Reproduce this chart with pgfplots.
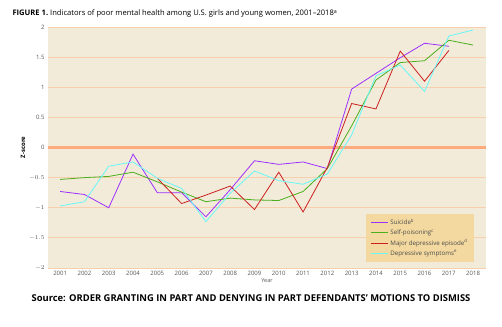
\documentclass[border=0pt]{standalone}
\usepackage{pgfplots}
\pgfplotsset{compat=1.18}
\usepackage{fontspec}
\setmainfont{Open Sans}
\definecolor{bgc}{HTML}{F2EBD9}
\definecolor{gridc}{HTML}{F7CFAE}
\definecolor{zeroc}{HTML}{FFAA7C}
\definecolor{legc}{HTML}{F3D99F}
\definecolor{cpurple}{HTML}{9B30FF}
\definecolor{cgreen}{HTML}{4CAF1E}
\definecolor{cred}{HTML}{CC2020}
\definecolor{ccyan}{HTML}{66F8F8}
\definecolor{tickc}{HTML}{555555}
\begin{document}
\begin{tikzpicture}
\path[use as bounding box] (0pt,0pt) rectangle (502pt,326pt);
\node[anchor=west,font=\fontsize{7.6}{8}\selectfont] at (9pt,312pt) {\textbf{FIGURE 1.}\ Indicators of poor mental health among U.S. girls and young women, 2001--2018\textsuperscript{a}};
\begin{axis}[
  at={(48pt,58pt)}, anchor=south west,
  scale only axis, width=438pt, height=241pt,
  xmin=2000.5, xmax=2018.53, ymin=-2, ymax=2,
  axis background/.style={fill=bgc},
  axis line style={draw=none},
  xtick={2001,...,2018},
  ytick={-2,-1.5,...,2},
  yticklabels={$-2$,$-1.5$,$-1$,$-0.5$,0,0.5,1,1.5,2},
  xticklabel style={/pgf/number format/1000 sep={}},
  ymajorgrids, grid style={gridc, line width=0.8pt},
  major tick length=0pt,
  tick label style={font=\fontsize{6}{7}\selectfont, text=tickc},
  /pgf/number format/assume math mode=true,
  xlabel={Year}, xlabel style={font=\fontsize{5.5}{6}\selectfont, text=tickc, yshift=4pt},
  ylabel={\textbf{Z-score}}, ylabel style={font=\fontsize{6}{7}\selectfont, yshift=-3pt},
  legend style={at={(0.972,0.025)}, anchor=south east, fill=legc, draw=none,
    font=\fontsize{6.2}{7}\selectfont, text=black!70, inner xsep=4pt, inner ysep=3pt, row sep=-0.5pt},
  legend image post style={line width=0.9pt},
  legend cell align=left,
  every axis plot/.append style={line width=0.8pt},
]
\addplot[zeroc, line width=3pt, forget plot] coordinates {(2000.5,0) (2018.53,0)};
\addplot[cpurple] coordinates {
(2001,-0.73) (2002,-0.78) (2003,-1.0) (2004,-0.11) (2005,-0.75) (2006,-0.75)
(2007,-1.15) (2008,-0.7) (2009,-0.22) (2010,-0.28) (2011,-0.24) (2012,-0.35)
(2013,0.97) (2014,1.23) (2015,1.49) (2016,1.73) (2017,1.68)};
\addlegendentry{Suicide\textsuperscript{b}}
\addplot[cgreen] coordinates {
(2001,-0.53) (2002,-0.50) (2003,-0.48) (2004,-0.41) (2005,-0.57) (2006,-0.74)
(2007,-0.90) (2008,-0.84) (2009,-0.87) (2010,-0.88) (2011,-0.73) (2012,-0.35)
(2013,0.36) (2014,1.12) (2015,1.41) (2016,1.44) (2017,1.78) (2018,1.70)};
\addlegendentry{Self-poisoning\textsuperscript{c}}
\addplot[cred] coordinates {
(2005,-0.51) (2006,-0.93) (2007,-0.79) (2008,-0.64) (2009,-1.03) (2010,-0.41)
(2011,-1.07) (2012,-0.33) (2013,0.73) (2014,0.64) (2015,1.60) (2016,1.10) (2017,1.61)};
\addlegendentry{Major depressive episode\textsuperscript{d}}
\addplot[ccyan] coordinates {
(2001,-0.97) (2002,-0.90) (2003,-0.31) (2004,-0.24) (2005,-0.51) (2006,-0.68)
(2007,-1.23) (2008,-0.76) (2009,-0.39) (2010,-0.55) (2011,-0.61) (2012,-0.44)
(2013,0.21) (2014,1.19) (2015,1.37) (2016,0.93) (2017,1.85) (2018,1.95)};
\addlegendentry{Depressive symptoms\textsuperscript{e}}
\end{axis}
\node[font=\bfseries\fontsize{9.4}{11}\selectfont] at (251pt,28pt) {Source: ORDER GRANTING IN PART AND DENYING IN PART DEFENDANTS’ MOTIONS TO DISMISS};
\end{tikzpicture}
\end{document}
